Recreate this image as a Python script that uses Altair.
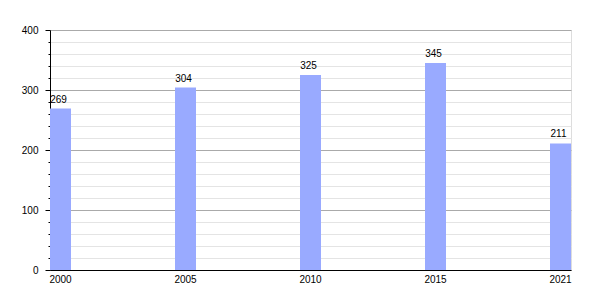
import altair as alt
import pandas as pd

years = ["2000", "2005", "2010", "2015", "2021"]
values = [269, 304, 325, 345, 211]

df = pd.DataFrame({"year": years, "value": values})

FONT = "Liberation Sans"

x_enc = alt.X(
    "year:N",
    sort=years,
    scale=alt.Scale(paddingInner=0.832, paddingOuter=0),
    axis=alt.Axis(
        title=None, labelAngle=0, ticks=False, domainColor="black",
        labelColor="black", labelFont=FONT, labelFontSize=10, labelPadding=4,
        grid=False,
    ),
)

y_enc = alt.Y(
    "value:Q",
    scale=alt.Scale(domain=[0, 400], nice=False),
    axis=alt.Axis(
        title=None,
        values=list(range(0, 401, 20)),
        labelExpr="datum.value % 100 === 0 ? datum.label : ''",
        grid=True,
        gridColor={"condition": {"test": "datum.value % 100 === 0", "value": "#aaaaaa"}, "value": "#e4e4e4"},
        tickSize={"condition": {"test": "datum.value % 100 === 0", "value": 5}, "value": 2},
        tickColor="black",
        domainColor="black",
        labelColor="black",
        labelFont=FONT,
        labelFontSize=10,
        labelPadding=7,
    ),
)

bars = alt.Chart(df).mark_bar(color="#99aaff").encode(x=x_enc, y=y_enc)

labels = alt.Chart(df).mark_text(
    baseline="alphabetic", dy=-6, dx=-2, font=FONT, fontSize=10, color="black"
).encode(x=x_enc, y=y_enc, text="value:Q")

chart = (
    alt.layer(bars, labels)
    .properties(
        width=521, height=240,
        autosize=alt.AutoSizeParams(type="none"),
        padding={"left": 50, "top": 30, "right": 29, "bottom": 30},
    )
    .configure_view(stroke=None)
    .configure(background="white")
)

chart.save("out.html", embed_options={"renderer": "svg", "actions": False})
